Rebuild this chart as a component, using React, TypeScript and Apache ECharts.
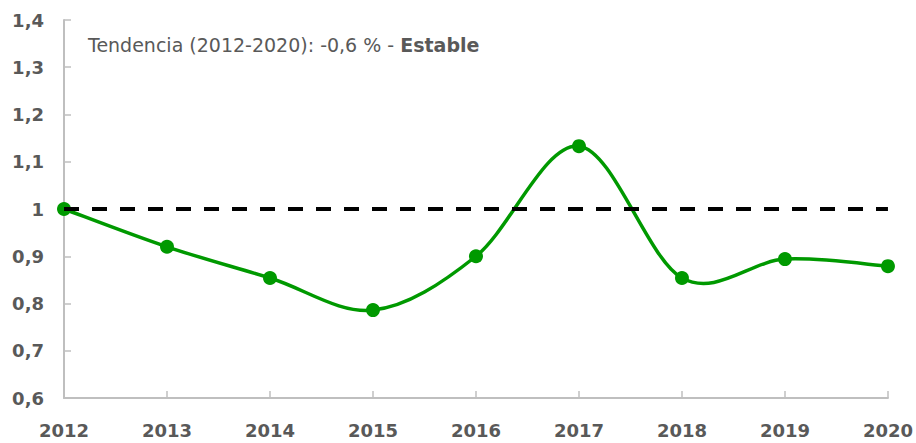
import React, { useEffect, useRef } from "react";
import * as echarts from "echarts";

const years = ["2012", "2013", "2014", "2015", "2016", "2017", "2018", "2019", "2020"];
const values = [1.0, 0.92, 0.854, 0.786, 0.9, 1.133, 0.854, 0.894, 0.879];
const reference = [1, 1, 1, 1, 1, 1, 1, 1, 1];
const trendText = "Tendencia (2012-2020): -0,6 % - ";
const trendLabel = "Estable";

export default function App() {
  const ref = useRef<HTMLDivElement>(null);
  useEffect(() => {
    document.body.style.margin = "0";
    if (!ref.current) return;
    const chart = echarts.init(ref.current, undefined, { renderer: "svg" });
    const font = "Tahoma, 'DejaVu Sans', sans-serif";
    const green = "#009900";
    chart.setOption({
      animation: false,
      backgroundColor: "#ffffff",
      grid: { left: 64, right: 24, top: 20, bottom: 45, containLabel: false },
      xAxis: {
        type: "category",
        data: years,
        boundaryGap: false,
        axisLine: { lineStyle: { color: "#bfbfbf", width: 2 } },
        axisTick: { inside: true, length: 7, lineStyle: { color: "#bfbfbf", width: 1.5 } },
        axisLabel: { color: "#595959", fontFamily: font, fontWeight: "bold", fontSize: 18, margin: 23 },
        splitLine: { show: false },
      },
      yAxis: {
        type: "value",
        min: 0.6,
        max: 1.4,
        interval: 0.1,
        axisLine: { show: true, lineStyle: { color: "#bfbfbf", width: 2 } },
        axisTick: { show: true, inside: true, length: 7, lineStyle: { color: "#bfbfbf", width: 1.5 } },
        axisLabel: {
          color: "#595959",
          fontFamily: font,
          fontWeight: "bold",
          fontSize: 18,
          margin: 20,
          formatter: (v: number) => String(Math.round(v * 10) / 10).replace(".", ","),
        },
        splitLine: { show: false },
      },
      series: [
        {
          type: "custom",
          data: values.map((v, i) => [i, v]),
          z: 2,
          silent: true,
          renderItem: (params: any, api: any) => {
            if (params.dataIndexInside !== 0) return null;
            const n = params.dataInsideLength;
            const pts: number[][] = [];
            for (let i = 0; i < n; i++) {
              pts.push(api.coord([api.value(0, i), api.value(1, i)]));
            }
            let d = "M" + pts[0][0] + "," + pts[0][1];
            for (let i = 0; i < n - 1; i++) {
              const p0 = pts[i - 1] || pts[i];
              const p1 = pts[i];
              const p2 = pts[i + 1];
              const p3 = pts[i + 2] || pts[i + 1];
              const c1x = p1[0] + (p2[0] - p0[0]) / 6;
              const c1y = p1[1] + (p2[1] - p0[1]) / 6;
              const c2x = p2[0] - (p3[0] - p1[0]) / 6;
              const c2y = p2[1] - (p3[1] - p1[1]) / 6;
              d += " C" + c1x + "," + c1y + " " + c2x + "," + c2y + " " + p2[0] + "," + p2[1];
            }
            return {
              type: "path",
              shape: { pathData: d },
              style: { fill: "none", stroke: green, lineWidth: 3.5 },
            };
          },
        },
        {
          type: "line",
          data: values,
          symbol: "circle",
          symbolSize: 14,
          lineStyle: { width: 0, opacity: 0 },
          itemStyle: { color: green },
          z: 3,
        },
        {
          type: "line",
          data: reference,
          symbol: "none",
          lineStyle: { color: "#000000", width: 4, type: [15, 13] },
          z: 4,
        },
      ],
      graphic: [
        {
          type: "text",
          left: 88,
          top: 35,
          style: {
            text: "{a|" + trendText + "}{b|" + trendLabel + "}",
            fill: "#595959",
            rich: {
              a: { fontFamily: font, fontSize: 19, fill: "#595959" },
              b: { fontFamily: font, fontSize: 19, fill: "#595959", fontWeight: "bold" },
            },
          },
        },
      ],
    });
    return () => chart.dispose();
  }, []);
  return <div ref={ref} style={{ width: 916, height: 443 }} />;
}
